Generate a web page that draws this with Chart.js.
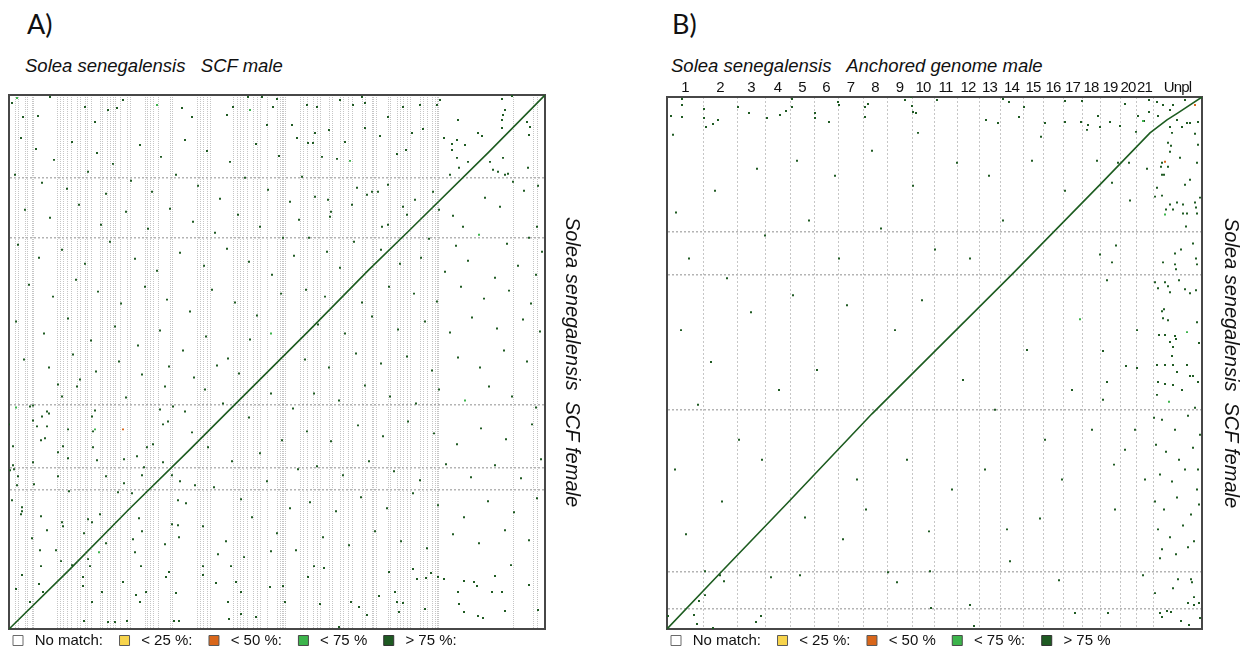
<!DOCTYPE html>
<html>
<head>
<meta charset="utf-8">
<script src="https://cdn.jsdelivr.net/npm/chart.js@4.4.1/dist/chart.umd.min.js"></script>
<style>
  html, body { margin: 0; padding: 0; background: #fff; width: 1247px; height: 653px; overflow: hidden; }
  .txt { position: absolute; font-family: 'Liberation Sans', Arial, sans-serif; color: #111; white-space: pre; line-height: 1; }
  .tag { font-family: Lato, 'Open Sans', sans-serif; font-size: 27px; }
  .ttl { font-style: italic; font-size: 18.5px; }
  canvas { position: absolute; top: 0; }
</style>
</head>
<body>
<div class="txt tag" style="left:27px;top:10px">A)</div>
<div class="txt tag" style="left:672px;top:10px">B)</div>
<div class="txt ttl" style="left:25px;top:57px">Solea senegalensis   SCF male</div>
<div class="txt ttl" style="left:671px;top:57px">Solea senegalensis   Anchored genome male</div>
<canvas id="chartA" width="620" height="660" style="left:0"></canvas>
<canvas id="chartB" width="607" height="660" style="left:640px"></canvas>
<script>
const FONT = "'Liberation Sans', Arial, sans-serif";

// ---- panel A: SCF male (x) vs SCF female (y), sequence units ----
const aLenX = 536;
const aLenY = 535;
const aContigEnds = [6, 9, 16, 18, 23, 24, 48, 51, 54, 58, 62, 68, 71, 76, 78, 82, 91, 93, 98, 101, 104, 106,
  111, 118, 121, 136, 138, 141, 144, 149, 161, 163, 188, 191, 194, 198, 201, 224, 228, 231, 234, 238, 244, 248,
  251, 258, 268, 271, 273, 274, 276, 291, 294, 298, 304, 308, 311, 320, 323, 331, 334, 339, 343, 353, 356, 363,
  364, 367, 379, 381, 388, 391, 394, 398, 401, 411, 414, 418, 423, 426, 428, 429, 504, 524, 528];
const aScaffEnds = [140, 162, 225, 392, 452];
const aDiag = [[0, 0], [60, 59], [120, 120], [180, 179], [226, 225], [300, 299], [360, 360], [401, 400], [480, 478], [536, 535]];
const aHigh = [
  [3, 527], [14, 513], [29, 514], [41, 533], [76, 523], [86, 508], [99, 520], [108, 522], [114, 530], [173, 522],
  [183, 513], [218, 515], [224, 523], [239, 533], [253, 533], [264, 523], [268, 531], [258, 505], [283, 505], [308, 523],
  [298, 525], [331, 530], [344, 525], [353, 533], [356, 527], [379, 513], [394, 523], [411, 525], [428, 525], [431, 530],
  [449, 510], [493, 531], [503, 534], [496, 520], [494, 515], [493, 510], [518, 508], [521, 503], [306, 497], [320, 500],
  [336, 488], [356, 502], [371, 494], [403, 497], [414, 501], [435, 492], [443, 486], [448, 490], [456, 485], [469, 497],
  [473, 494], [493, 502], [520, 495], [299, 487], [304, 487], [328, 471], [313, 473], [388, 476], [397, 480], [443, 480],
  [448, 472], [459, 468], [481, 468], [494, 472], [484, 460], [489, 458], [496, 455], [499, 456], [519, 462], [293, 453],
  [450, 462], [441, 455], [348, 442], [358, 435], [363, 438], [369, 438], [379, 445], [394, 423], [398, 415], [406, 430],
  [424, 438], [430, 420], [444, 414], [454, 403], [476, 432], [491, 423], [504, 448], [515, 439], [529, 444], [528, 403],
  [343, 425], [306, 433], [319, 430], [322, 418], [321, 413], [373, 403], [379, 405],
  // left middle
  [12, 492], [27, 481], [45, 470], [63, 488], [88, 477], [104, 466], [131, 485], [152, 473], [176, 490], [198, 479],
  [221, 468], [247, 486], [270, 474], [288, 492], [6, 455], [33, 447], [58, 441], [79, 458], [97, 436], [122, 449],
  [143, 438], [167, 455], [189, 444], [211, 431], [236, 452], [259, 440], [281, 428], [16, 420], [41, 412], [70, 425],
  [92, 405], [117, 418], [139, 401], [161, 421], [184, 408], [206, 397], [229, 415], [251, 403], [274, 392], [290, 410],
  [9, 385], [30, 372], [53, 380], [76, 366], [101, 388], [126, 371], [148, 359], [171, 377], [195, 364], [218, 381],
  [240, 368], [263, 355], [285, 374], [20, 345], [44, 333], [67, 350], [89, 338], [112, 326], [136, 343], [158, 330],
  [181, 318], [203, 340], [226, 327], [248, 314], [272, 336], [7, 308], [35, 296], [59, 311], [82, 289], [106, 303],
  [129, 284], [151, 299], [174, 279], [197, 293], [219, 271], [241, 290], [15, 270], [40, 262], [64, 275],
  [87, 258], [110, 268], [133, 255], [160, 263], [185, 252], [208, 264], [230, 256],
  // right middle
  [300, 392], [318, 378], [345, 388], [372, 380], [420, 391], [447, 384], [498, 386], [520, 392], [533, 378],
  [331, 362], [391, 366], [412, 372], [436, 358], [459, 369], [486, 352], [509, 364], [527, 355], [297, 340], [316, 333],
  [353, 327], [380, 343], [405, 336], [428, 328], [452, 343], [475, 331], [500, 339], [522, 326], [309, 305], [336, 296],
  [363, 313], [389, 300], [416, 308], [441, 297], [463, 312], [488, 301], [514, 310], [531, 298], [296, 270], [320, 262],
  [347, 276], [372, 266], [398, 273], [423, 259], [449, 272], [471, 262], [495, 279], [518, 268], [305, 236], [330, 229],
  [356, 244], [381, 233], [407, 226], [430, 240], [480, 243], [503, 233], [527, 222], [298, 198], [322, 188],
  [349, 204], [374, 193], [399, 208], [425, 196], [448, 185], [472, 201], [497, 190], [523, 205], [308, 163], [334, 154],
  [360, 168], [385, 158], [411, 149], [437, 165], [462, 152], [486, 164], [512, 151], [532, 170], [301, 127], [327, 118],
  [352, 132], [378, 121], [404, 136], [429, 124], [455, 112], [479, 128], [505, 117], [528, 131], [314, 92], [340, 84],
  [366, 98], [392, 88], [418, 81], [444, 95], [470, 86], [496, 99], [520, 89],
  [196, 240], [214, 226], [240, 212], [262, 236], [284, 221], [199, 182], [223, 168], [251, 176], [273, 189], [289, 160],
  [205, 142], [232, 130], [258, 148], [281, 121], [194, 103], [217, 88], [243, 112], [268, 96], [287, 79], [209, 75],
  [235, 72], [262, 78],
  // lower left
  [49, 245], [68, 243], [71, 250], [53, 233], [156, 243], [117, 232], [24, 224], [21, 223], [38, 218], [40, 216],
  [86, 219], [151, 220], [164, 223], [176, 218], [24, 209], [33, 213], [28, 203], [38, 203], [59, 200], [83, 213],
  [84, 198], [154, 205], [159, 208], [183, 197], [0, 205], [32, 189], [36, 191], [4, 183], [54, 183], [84, 182],
  [144, 185], [138, 182], [49, 177], [128, 173], [24, 167], [59, 171], [88, 169], [115, 170], [135, 162], [154, 167],
  [4, 164], [5, 160], [1, 159], [9, 153], [49, 153], [97, 153], [133, 154], [163, 154], [25, 145], [115, 146],
  [171, 148], [186, 144], [8, 144], [60, 138], [109, 137], [123, 136], [3, 129], [169, 129], [177, 126], [13, 122],
  [13, 118], [12, 115], [32, 113], [79, 110], [91, 115], [83, 107], [130, 111], [163, 105], [169, 104], [53, 107],
  [54, 103], [38, 99], [75, 96], [133, 98], [23, 91], [97, 86], [124, 90], [156, 85], [170, 92], [31, 79],
  [47, 79], [126, 77], [79, 70], [52, 68], [32, 63], [63, 64], [81, 63], [132, 63], [13, 54], [74, 52],
  [157, 52], [160, 57],
  // bottom strip
  [74, 43], [83, 27], [7, 40], [30, 45], [34, 37], [21, 27], [75, 8], [93, 37], [99, 7], [106, 7],
  [114, 47], [118, 8], [127, 34], [131, 27], [137, 37], [167, 36], [165, 8], [170, 8], [194, 63], [194, 54],
  [207, 46], [219, 27], [220, 10], [222, 63], [227, 47], [232, 37], [232, 15], [247, 12], [261, 42], [274, 43],
  [276, 27], [299, 52], [305, 63], [315, 61], [311, 25], [342, 27], [350, 22], [358, 14], [370, 33], [380, 57],
  [386, 37], [388, 27], [394, 26], [390, 17], [404, 60], [408, 50], [416, 20], [417, 51], [422, 56], [429, 52],
  [435, 50], [449, 37], [455, 48], [465, 47], [468, 43], [450, 25], [455, 17], [469, 13], [474, 11], [483, 37],
  [486, 53], [493, 37], [496, 18], [502, 64], [520, 44], [529, 19], [330, 2]
];
const aMid = [[8, 532], [148, 525], [241, 520], [341, 469], [7, 222], [86, 200], [90, 77], [470, 395], [456, 229], [262, 296]];
const aLow = [[114, 200]];

// ---- panel B: anchored chromosomes (x) vs SCF female (y) ----
const bChrNames = ['1', '2', '3', '4', '5', '6', '7', '8', '9', '10', '11', '12', '13', '14', '15', '16', '17', '18', '19', '20', '21', 'Unpl'];
const bChrLen = [36, 34, 28, 25, 24, 24, 25, 24, 25, 22, 23, 22, 21, 23, 20, 20, 19, 18, 20, 16, 17, 49];
const bLenY = 534;
const bScaffEnds = [20, 57, 220, 356, 399];
const bDiag = [[0, 0], [53, 56], [120, 126], [205, 216], [280, 291], [346, 357], [433, 446], [483, 498], [500, 511], [511, 518], [535, 534]];
const bHigh = [
  [15, 532], [15, 526], [4, 515], [15, 514], [6, 496], [37, 522], [37, 513], [39, 504], [46, 507], [51, 511],
  [71, 524], [82, 518], [100, 513], [113, 516], [119, 520], [125, 532], [125, 524], [148, 518], [148, 513], [162, 509],
  [171, 529], [172, 526], [198, 524], [198, 514], [201, 527], [238, 531], [244, 534], [245, 525], [246, 519], [249, 518],
  [251, 498], [270, 531], [319, 511], [331, 508], [336, 532], [342, 529], [357, 524], [352, 514], [374, 494], [378, 508],
  [398, 530], [398, 509], [415, 530], [414, 509], [421, 506], [420, 501], [431, 515], [433, 504], [443, 509], [453, 505],
  [458, 527], [477, 510],
  [482, 531], [490, 529], [496, 526], [506, 526], [518, 531], [471, 515], [482, 519], [491, 515], [503, 521], [510, 511],
  [515, 504], [520, 508], [523, 508], [531, 509], [469, 499], [503, 504], [505, 498], [528, 497], [501, 488], [504, 485],
  [531, 486], [503, 479], [513, 473], [451, 468], [462, 468], [495, 468], [494, 464], [501, 464], [495, 456], [497, 456],
  [480, 462], [530, 468], [445, 448], [523, 451], [518, 446], [490, 443], [488, 434], [495, 435], [533, 433], [510, 428],
  [503, 426], [499, 421], [506, 421], [516, 426], [528, 428], [516, 417], [520, 417], [529, 423], [530, 417],
  [519, 404], [449, 385], [433, 376], [526, 387], [508, 377], [514, 381], [445, 368], [496, 368], [508, 366], [530, 366],
  [509, 361], [529, 372], [488, 348], [491, 342], [498, 348], [501, 344], [512, 350], [503, 338], [518, 341], [523, 337],
  [529, 340], [495, 319], [497, 321], [496, 312], [501, 310], [530, 308], [492, 295], [498, 295], [508, 294], [509, 291],
  [503, 288], [506, 283], [505, 274], [532, 287], [436, 279], [459, 264], [470, 262], [490, 265], [498, 265], [506, 265],
  [510, 258], [520, 265], [440, 248], [491, 248], [498, 246], [506, 245], [523, 254], [526, 254], [531, 248],
  // sparse middle of the anchored chromosomes
  [9, 418], [22, 372], [14, 300], [31, 225], [8, 160], [19, 95], [48, 440], [60, 352], [44, 268], [72, 190],
  [55, 128], [90, 462], [98, 395], [84, 318], [112, 240], [95, 170], [130, 470], [142, 410], [126, 335], [150, 260],
  [138, 112], [168, 455], [180, 325], [172, 372], [190, 150], [176, 90], [205, 480], [214, 402], [228, 300], [199, 120],
  [246, 445], [268, 381], [255, 330], [240, 170], [262, 98], [290, 468], [303, 372], [296, 250], [285, 140], [322, 455],
  [336, 410], [328, 220], [318, 160], [340, 100], [365, 470], [373, 111], [360, 280], [378, 190], [398, 440],
  [405, 240], [395, 150], [430, 470], [440, 350], [425, 200], [448, 120], [463, 430], [470, 300], [458, 180],
  [436, 230], [447, 165], [468, 200], [478, 150],
  // unplaced column, middle
  [490, 235], [515, 240], [528, 222], [495, 210], [508, 200], [521, 214], [533, 195], [489, 185], [499, 178],
  [512, 170], [526, 182], [493, 155], [505, 148], [518, 160], [530, 140], [488, 128], [497, 120], [510, 132], [524, 115],
  [532, 125], [491, 100], [503, 92], [516, 104], [527, 88], [495, 80], [509, 75], [521, 82], [487, 212], [531, 160],
  // bottom strip
  [38, 58], [53, 54], [57, 48], [104, 52], [133, 54], [221, 57], [230, 47], [263, 58], [32, 28], [38, 34],
  [27, 14], [1, 13], [30, 5], [46, 1], [89, 7], [94, 13], [264, 21], [303, 24], [307, 3], [343, 68],
  [392, 49], [408, 16], [441, 16], [476, 54], [488, 36], [493, 16], [495, 12], [500, 18], [504, 17], [506, 41],
  [511, 50], [514, 8], [521, 26], [522, 4], [524, 50], [525, 47], [527, 24], [527, 32], [532, 26], [533, 11], [493, 71]
];
const bMid = [[520, 298], [498, 416], [476, 510], [413, 311], [502, 228]];
const bLow = [[528, 526], [498, 469]];

const legendA = ['No match:', '< 25 %:', '< 50 %:', '< 75 %', '> 75 %:'];
const legendB = ['No match:', '< 25 %:', '< 50 %', '< 75 %:', '> 75 %'];

const toPts = arr => arr.map(([x, y]) => ({ x, y }));

function dotSet(label, data, color, edge) {
  return {
    label,
    data: toPts(data),
    backgroundColor: color,
    borderColor: edge,
    borderWidth: 1,
    pointStyle: 'rect',
    pointRadius: 1.4,
    pointHoverRadius: 1.4,
    pointBorderWidth: 0,
    pointBackgroundColor: color
  };
}

function cutScale(pos, max, cuts, dash, color, width) {
  return {
    type: 'linear', position: pos, min: 0, max,
    afterBuildTicks: s => { s.ticks = cuts.map(v => ({ value: v })); },
    ticks: { display: false },
    grid: { color, lineWidth: width, drawTicks: false },
    border: { display: true, color: '#474747', width: 2, dash }
  };
}

function frameScale(pos, max) {
  return {
    type: 'linear', position: pos, min: 0, max,
    ticks: { display: false },
    grid: { display: false, drawTicks: false },
    border: { display: true, color: '#474747', width: 2 }
  };
}

// chromosome numbers are packed tightly, squeeze their letter spacing a bit
const tightTicks = {
  id: 'tightTicks',
  afterDatasetsDraw(chart) { chart.ctx.letterSpacing = '-0.8px'; },
  afterDraw(chart) { chart.ctx.letterSpacing = '0px'; }
};

function makePanel(id, p) {
  const scales = {
    x: cutScale('bottom', p.lenX, p.xCuts, p.xDash, '#c6c6c6', 1),
    y: cutScale('left', p.lenY, p.yCuts, [2, 2], '#b4b4b4', 1.5),
    x2: p.top || frameScale('top', p.lenX),
    y2: Object.assign(frameScale('right', p.lenY), {
      title: {
        display: true,
        text: 'Solea senegalensis  SCF female',
        color: '#111',
        font: { family: FONT, size: 20, style: 'italic' },
        padding: { top: 4, bottom: p.titleGap }
      }
    })
  };
  return new Chart(document.getElementById(id), {
    type: 'scatter',
    data: {
      datasets: [
        { label: 'diag', data: toPts(p.diag), showLine: true, borderColor: '#1d5c20', borderWidth: 1.6, pointRadius: 0 },
        dotSet(p.legend[0], [], '#ffffff', '#6a6a6a'),
        dotSet(p.legend[1], [], '#f7d44c', '#5a5a5a'),
        dotSet(p.legend[2], p.low, '#d9661a', '#5a5a5a'),
        dotSet(p.legend[3], p.mid, '#3cb44b', '#4a4a4a'),
        dotSet(p.legend[4], p.high, '#1e5a22', '#333333')
      ]
    },
    plugins: [tightTicks],
    options: {
      responsive: false,
      animation: false,
      events: [],
      layout: { padding: p.pad },
      scales,
      plugins: {
        tooltip: { enabled: false },
        legend: {
          position: 'bottom',
          align: 'start',
          labels: {
            boxWidth: 10,
            boxHeight: 10,
            padding: 4,
            color: '#111',
            font: { family: FONT, size: 15 },
            generateLabels(chart) {
              const ds = chart.data.datasets;
              return Chart.defaults.plugins.legend.labels.generateLabels(chart)
                .filter(item => item.text !== 'diag')
                .map(item => Object.assign(item, {
                  text: ' ' + item.text + '   ',
                  fillStyle: ds[item.datasetIndex].backgroundColor,
                  strokeStyle: ds[item.datasetIndex].borderColor,
                  lineWidth: 1
                }));
            }
          }
        }
      }
    }
  });
}

// cumulative chromosome ends and label positions for panel B
const bChrEnds = [];
bChrLen.reduce((acc, len) => { bChrEnds.push(acc + len); return acc + len; }, 0);
const bLenX = bChrEnds[bChrEnds.length - 1];
const bChrMid = bChrLen.map((len, i) => bChrEnds[i] - len / 2);

makePanel('chartA', {
  lenX: aLenX, lenY: aLenY,
  xCuts: aContigEnds, yCuts: aScaffEnds, xDash: [1, 1],
  diag: aDiag, high: aHigh, mid: aMid, low: aLow,
  legend: legendA,
  titleGap: 15,
  pad: { left: 9, top: 95, right: 32, bottom: 2 }
});

makePanel('chartB', {
  lenX: bLenX, lenY: bLenY,
  xCuts: bChrEnds.slice(0, -1), yCuts: bScaffEnds, xDash: [2, 2],
  diag: bDiag, high: bHigh, mid: bMid, low: bLow,
  legend: legendB,
  titleGap: 17,
  top: {
    type: 'linear', position: 'top', min: 0, max: bLenX,
    afterBuildTicks: s => { s.ticks = bChrMid.map(v => ({ value: v })); },
    ticks: {
      autoSkip: false, maxRotation: 0, padding: 0, color: '#111', z: 1,
      font: { family: FONT, size: 15 },
      callback: (v, i) => bChrNames[i]
    },
    grid: { display: false, drawTicks: false },
    border: { display: true, color: '#474747', width: 2 }
  },
  pad: { left: 27, top: 79, right: 0, bottom: 2 }
});
</script>
</body>
</html>
